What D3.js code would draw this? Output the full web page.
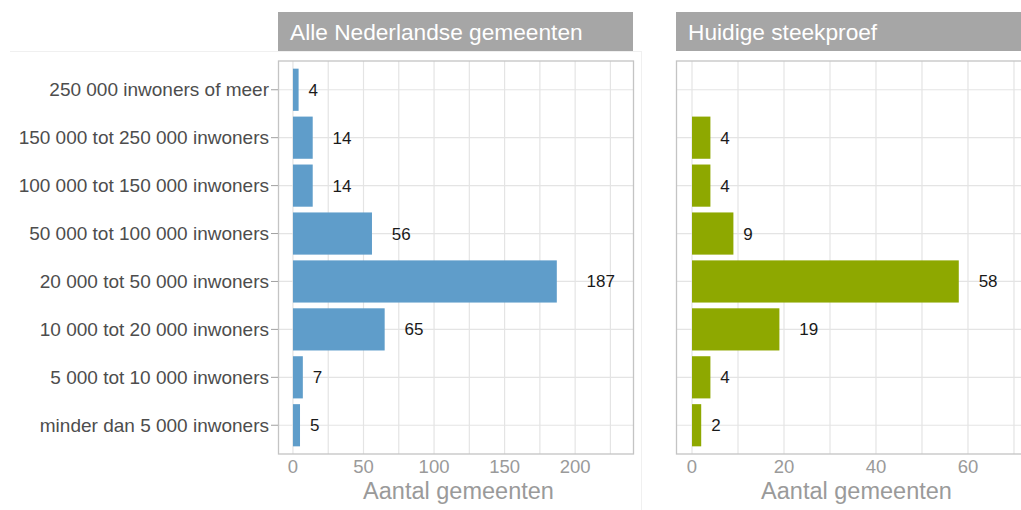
<!DOCTYPE html>
<html>
<head>
<meta charset="utf-8">
<script src="https://cdn.jsdelivr.net/npm/d3@7"></script>
<style>
  body { margin: 0; background: #fff; }
  svg { display: block; font-family: "Liberation Sans", Arial, sans-serif; }
</style>
</head>
<body>
<svg id="chart" width="1021" height="510"></svg>
<script>
// categories from top to bottom
const categories = [
    "250 000 inwoners of meer",
    "150 000 tot 250 000 inwoners",
    "100 000 tot 150 000 inwoners",
    "50 000 tot 100 000 inwoners",
    "20 000 tot 50 000 inwoners",
    "10 000 tot 20 000 inwoners",
    "5 000 tot 10 000 inwoners",
    "minder dan 5 000 inwoners"
];
const alleGemeenten = [4, 14, 14, 56, 187, 65, 7, 5];
const steekproef = [null, 4, 4, 9, 58, 19, 4, 2];

const panelTitles = ["Alle Nederlandse gemeenten", "Huidige steekproef"];
const alleTicks = [0, 50, 100, 150, 200];
const steekproefTicks = [0, 20, 40, 60];
const axisTitle = "Aantal gemeenten";

const svg = d3.select("#chart");

// faint separator lines from the source screenshot
svg.append("line").attr("x1", 10).attr("x2", 641).attr("y1", 51.5).attr("y2", 51.5)
    .attr("stroke", "#f0f0f0");
svg.append("line").attr("x1", 641.5).attr("x2", 641.5).attr("y1", 51).attr("y2", 510)
    .attr("stroke", "#f0f0f0");

const panelTop = 61, panelBottom = 454;
const y = d3.scalePoint().domain(categories).range([panelTop, panelBottom]).padding(0.6);
const barH = y.step() * 0.88;

const panels = [
    { left: 278, title: panelTitles[0], values: alleGemeenten, domain: [-10.6, 241], ticks: alleTicks, step: 25, color: "#5f9dca" },
    { left: 676, title: panelTitles[1], values: steekproef, domain: [-3.48, 73.7], ticks: steekproefTicks, step: 10, color: "#8ea800" }
];
const panelW = 355;

panels.forEach((p, pi) => {
    const x = d3.scaleLinear().domain(p.domain).range([p.left, p.left + panelW]);
    const g = svg.append("g");

    // strip
    g.append("rect").attr("x", p.left).attr("y", 12).attr("width", panelW).attr("height", 39)
        .attr("fill", "#a6a6a6");
    g.append("text").attr("x", p.left + 12).attr("y", 40)
        .attr("fill", "#fff").attr("font-size", 22.7).text(p.title);

    // grid
    const gridVals = d3.range(0, p.domain[1], p.step);
    g.selectAll(".vgrid").data(gridVals).enter().append("line")
        .attr("x1", d => x(d)).attr("x2", d => x(d))
        .attr("y1", panelTop).attr("y2", panelBottom)
        .attr("stroke", "#e4e4e4").attr("stroke-width", 1.2);
    g.selectAll(".hgrid").data(categories).enter().append("line")
        .attr("x1", p.left).attr("x2", p.left + panelW)
        .attr("y1", d => y(d)).attr("y2", d => y(d))
        .attr("stroke", "#e4e4e4").attr("stroke-width", 1.2);

    // bars
    const rows = categories.map((c, i) => ({ cat: c, v: p.values[i] })).filter(d => d.v != null);
    g.selectAll(".bar").data(rows).enter().append("rect")
        .attr("x", x(0))
        .attr("y", d => y(d.cat) - barH / 2)
        .attr("width", d => x(d.v) - x(0))
        .attr("height", barH)
        .attr("fill", p.color);

    // value labels, pushed out by about one text width (like hjust = -1)
    g.selectAll(".lbl").data(rows).enter().append("text")
        .attr("y", d => y(d.cat) + 6)
        .attr("font-size", 17).attr("fill", "#1a1a1a")
        .text(d => d.v)
        .each(function (d) {
            const w = this.getComputedTextLength();
            d3.select(this).attr("x", x(d.v) + w * 1.05);
        });

    // panel border
    g.append("rect").attr("x", p.left + 0.5).attr("y", panelTop).attr("width", panelW).attr("height", panelBottom - panelTop)
        .attr("fill", "none").attr("stroke", "#c4c4c4").attr("stroke-width", 1.3);

    // x axis tick labels
    g.selectAll(".xt").data(p.ticks).enter().append("text")
        .attr("x", d => x(d)).attr("y", 473)
        .attr("text-anchor", "middle").attr("font-size", 18.5).attr("fill", "#9a9a9a")
        .text(d => d);
    g.append("text").attr("x", p.left + panelW / 2 + 3).attr("y", 499)
        .attr("text-anchor", "middle").attr("font-size", 23.5).attr("fill", "#9a9a9a")
        .text(axisTitle);

    // y axis only on first panel
    if (pi === 0) {
        g.selectAll(".yt").data(categories).enter().append("line")
            .attr("x1", p.left - 7).attr("x2", p.left)
            .attr("y1", d => y(d)).attr("y2", d => y(d))
            .attr("stroke", "#a0a0a0");
        g.selectAll(".yl").data(categories).enter().append("text")
            .attr("x", p.left - 9).attr("y", d => y(d) + 6.5)
            .attr("text-anchor", "end").attr("font-size", 19).attr("fill", "#4d4d4d")
            .text(d => d);
    }
});
</script>
</body>
</html>
